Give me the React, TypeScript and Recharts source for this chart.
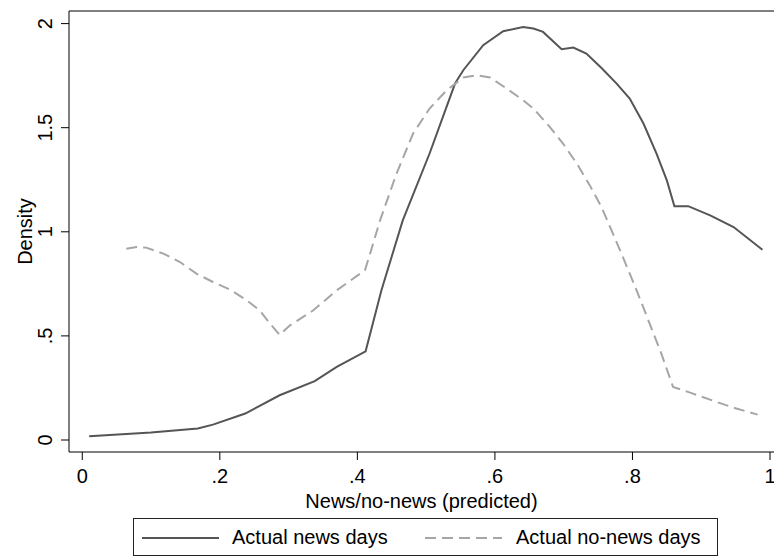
import React from "react";
import { LineChart, Line, XAxis, YAxis, ReferenceLine } from "recharts";

// kernel density estimates of the predicted news probability
const newsX = [
  0.01, 0.1, 0.168, 0.19, 0.237, 0.287, 0.338, 0.37, 0.412, 0.435, 0.466,
  0.505, 0.542, 0.554, 0.583, 0.612, 0.641, 0.656, 0.67, 0.697, 0.714, 0.733,
  0.755, 0.777, 0.796, 0.816, 0.835, 0.85, 0.861, 0.881, 0.913, 0.947, 0.989,
];
const newsY = [
  0.018, 0.036, 0.055, 0.074, 0.127, 0.215, 0.283, 0.351, 0.426, 0.719, 1.055,
  1.376, 1.712, 1.776, 1.896, 1.963, 1.984, 1.976, 1.96, 1.877, 1.885, 1.856,
  1.787, 1.712, 1.64, 1.52, 1.376, 1.247, 1.123, 1.123, 1.079, 1.023, 0.914,
];

const noNewsX = [
  0.064, 0.079, 0.093, 0.118, 0.142, 0.166, 0.19, 0.215, 0.239, 0.258, 0.273,
  0.287, 0.302, 0.336, 0.37, 0.411, 0.42, 0.433, 0.457, 0.481, 0.505, 0.53,
  0.554, 0.573, 0.593, 0.617, 0.641, 0.656, 0.68, 0.699, 0.719, 0.738, 0.755,
  0.782, 0.806, 0.825, 0.842, 0.859, 0.888, 0.922, 0.951, 0.982,
];
const noNewsY = [
  0.919, 0.927, 0.924, 0.895, 0.855, 0.799, 0.759, 0.722, 0.671, 0.623, 0.559,
  0.505, 0.551, 0.623, 0.719, 0.815, 0.911, 1.055, 1.28, 1.472, 1.592, 1.68,
  1.741, 1.752, 1.741, 1.688, 1.632, 1.592, 1.503, 1.424, 1.328, 1.223, 1.119,
  0.911, 0.719, 0.559, 0.415, 0.255, 0.223, 0.183, 0.151, 0.122,
];

const xTicks = [0, 0.2, 0.4, 0.6, 0.8, 1];
const xTickLabels = ["0", ".2", ".4", ".6", ".8", "1"];
const yTicks = [0, 0.5, 1, 1.5, 2];
const yTickLabels = ["0", ".5", "1", "1.5", "2"];

const seriesNames = ["Actual news days", "Actual no-news days"];

const X_DOMAIN: [number, number] = [-0.0193, 1.0058];
const Y_DOMAIN: [number, number] = [-0.0576, 2.0605];

const FONT = "'Liberation Sans', Arial, sans-serif";
const NEWS_COLOR = "#555555";
const NO_NEWS_COLOR = "#a6a6a6";
const DASH = "11 6";

const newsData = newsX.map((x, i) => ({ x, y: newsY[i] }));
const noNewsData = noNewsX.map((x, i) => ({ x, y: noNewsY[i] }));

const label = (ticks: number[], labels: string[]) => (v: number) => {
  const i = ticks.findIndex((t) => Math.abs(t - v) < 1e-9);
  return i >= 0 ? labels[i] : String(v);
};
const fmtX = label(xTicks, xTickLabels);
const fmtY = label(yTicks, yTickLabels);

const XTick = ({ x, y, payload }: any) => (
  <text x={x} y={y + 21} textAnchor="middle" fontSize={20} fontFamily={FONT} fill="#000">
    {fmtX(payload.value)}
  </text>
);

// Stata draws y tick labels turned on their side
const YTick = ({ x, y, payload }: any) => (
  <text
    x={x - 14}
    y={y}
    dy="0.36em"
    transform={`rotate(-90, ${x - 14}, ${y})`}
    textAnchor="middle"
    fontSize={20}
    fontFamily={FONT}
    fill="#000"
  >
    {fmtY(payload.value)}
  </text>
);

const XTitle = ({ viewBox }: any) => (
  <text
    x={viewBox.x + viewBox.width / 2}
    y={508}
    textAnchor="middle"
    fontSize={20}
    fontFamily={FONT}
    fill="#000"
  >
    News/no-news (predicted)
  </text>
);

const YTitle = ({ viewBox }: any) => {
  const cy = viewBox.y + viewBox.height / 2;
  return (
    <text
      x={25}
      y={cy}
      dy="0.36em"
      transform={`rotate(-90, 25, ${cy})`}
      textAnchor="middle"
      fontSize={20}
      fontFamily={FONT}
      fill="#000"
    >
      Density
    </text>
  );
};

const LegendKey = ({ dashed }: { dashed?: boolean }) => (
  <svg width={77} height={4} style={{ display: "block" }}>
    <line
      x1={0}
      y1={2}
      x2={77}
      y2={2}
      stroke={dashed ? NO_NEWS_COLOR : NEWS_COLOR}
      strokeWidth={2}
      strokeDasharray={dashed ? DASH : undefined}
    />
  </svg>
);

export default function App() {
  return (
    <div style={{ position: "absolute", left: 0, top: 0, width: 774, height: 557, background: "#fff" }}>
      <LineChart width={774} height={557} data={newsData} margin={{ top: 11, right: 0, bottom: 0, left: 0 }}>
        <XAxis
          dataKey="x"
          type="number"
          domain={X_DOMAIN}
          allowDataOverflow
          ticks={xTicks}
          tick={<XTick />}
          tickSize={8}
          height={105}
          stroke="#000"
          label={<XTitle />}
        />
        <YAxis
          type="number"
          domain={Y_DOMAIN}
          allowDataOverflow
          ticks={yTicks}
          tick={<YTick />}
          tickSize={8}
          width={69}
          stroke="#000"
          label={<YTitle />}
        />
        <ReferenceLine y={Y_DOMAIN[1]} stroke="#000" strokeWidth={1} />
        <Line
          data={newsData}
          dataKey="y"
          name={seriesNames[0]}
          type="linear"
          stroke={NEWS_COLOR}
          strokeWidth={2}
          dot={false}
          isAnimationActive={false}
        />
        <Line
          data={noNewsData}
          dataKey="y"
          name={seriesNames[1]}
          type="linear"
          stroke={NO_NEWS_COLOR}
          strokeWidth={2}
          strokeDasharray={DASH}
          dot={false}
          isAnimationActive={false}
        />
      </LineChart>
      <div
        style={{
          position: "absolute",
          left: 133,
          top: 518,
          width: 585,
          height: 38,
          boxSizing: "border-box",
          border: "1px solid #222",
          fontFamily: FONT,
          fontSize: 20,
          color: "#000",
          display: "flex",
          alignItems: "center",
        }}
      >
        <div style={{ position: "absolute", left: 8, top: 17 }}>
          <LegendKey />
        </div>
        <div style={{ position: "absolute", left: 98, top: 6, lineHeight: "24px" }}>{seriesNames[0]}</div>
        <div style={{ position: "absolute", left: 291, top: 17 }}>
          <LegendKey dashed />
        </div>
        <div style={{ position: "absolute", left: 382, top: 6, lineHeight: "24px" }}>{seriesNames[1]}</div>
      </div>
    </div>
  );
}
